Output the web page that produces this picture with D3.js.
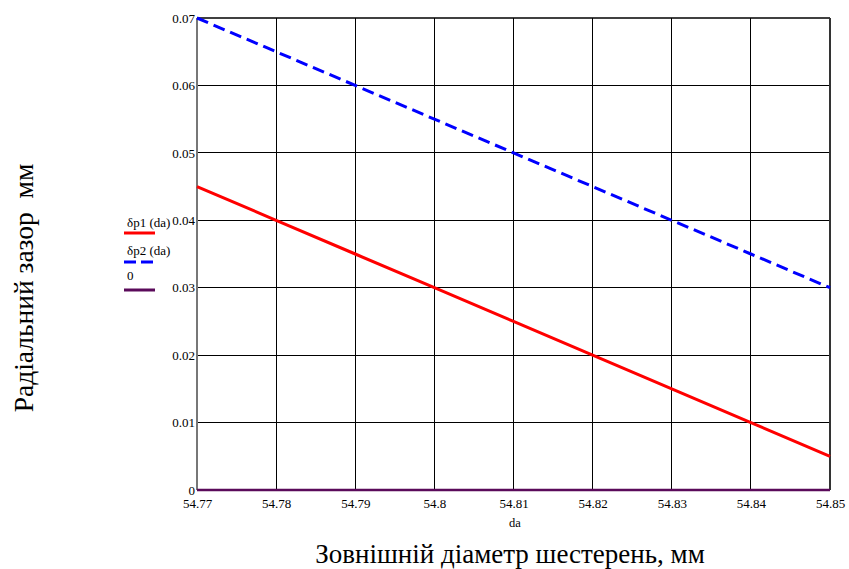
<!DOCTYPE html>
<html><head><meta charset="utf-8">
<script src="https://cdn.jsdelivr.net/npm/d3@7"></script>
<style>body{margin:0;background:#fff}svg{display:block}</style>
</head><body>
<svg id="c" width="849" height="569"></svg>
<script>
const daValues = [54.77, 54.78, 54.79, 54.80, 54.81, 54.82, 54.83, 54.84, 54.85];
const dp1 = [0.045, 0.040, 0.035, 0.030, 0.025, 0.020, 0.015, 0.010, 0.005];
const dp2 = [0.070, 0.065, 0.060, 0.055, 0.050, 0.045, 0.040, 0.035, 0.030];
const zeroLine = [0, 0, 0, 0, 0, 0, 0, 0, 0];
const xTicks = [54.77, 54.78, 54.79, 54.8, 54.81, 54.82, 54.83, 54.84, 54.85];
const yTicks = [0, 0.01, 0.02, 0.03, 0.04, 0.05, 0.06, 0.07];
const legendLabels = ["δp1 (da)", "δp2 (da)", "0"];

const FONT = "Liberation Serif";
const svg = d3.select("#c");
const L = 197, R = 830, T = 18, B = 490;
const x = d3.scaleLinear().domain([54.77, 54.85]).range([L, R]);
const y = d3.scaleLinear().domain([0, 0.07]).range([B, T]);

// grid
svg.append("g").selectAll("line").data(xTicks.slice(1, -1)).join("line")
  .attr("x1", d => x(d)).attr("x2", d => x(d)).attr("y1", T).attr("y2", B)
  .attr("stroke", "#000").attr("stroke-width", 1).attr("shape-rendering", "crispEdges");
svg.append("g").selectAll("line").data(yTicks.slice(1, -1)).join("line")
  .attr("x1", L).attr("x2", R).attr("y1", d => y(d)).attr("y2", d => y(d))
  .attr("stroke", "#000").attr("stroke-width", 1).attr("shape-rendering", "crispEdges");

// frame
svg.append("line").attr("x1", L).attr("x2", R).attr("y1", T).attr("y2", T).attr("stroke", "#000").attr("stroke-width", 1.5);
svg.append("line").attr("x1", R).attr("x2", R).attr("y1", T).attr("y2", B).attr("stroke", "#333").attr("stroke-width", 2);
svg.append("line").attr("x1", L).attr("x2", L).attr("y1", T).attr("y2", B).attr("stroke", "#777").attr("stroke-width", 2);

// tick labels
const yAxis = d3.axisLeft(y).tickValues(yTicks).tickSize(0).tickPadding(2).tickFormat(d => d === 0 ? "0" : d3.format(".2f")(d));
const gy = svg.append("g").attr("transform", `translate(${L},0)`).call(yAxis);
gy.attr("font-family", FONT).attr("font-size", 13);
gy.select(".domain").remove();
gy.selectAll("text").attr("fill", "#000");

const xAxis = d3.axisBottom(x).tickValues(xTicks).tickSize(0).tickPadding(9).tickFormat(d => String(+d.toFixed(2)));
const gx = svg.append("g").attr("transform", `translate(0,${B})`).call(xAxis);
gx.attr("font-family", FONT).attr("font-size", 13);
gx.select(".domain").remove();
gx.selectAll("text").attr("fill", "#000");

const line = d3.line().x((d, i) => x(daValues[i])).y(d => y(d));
svg.append("path").datum(zeroLine).attr("d", line).attr("fill", "none").attr("stroke", "#5a0a5a").attr("stroke-width", 2.5);
svg.append("path").datum(dp1).attr("d", line).attr("fill", "none").attr("stroke", "#ff0000").attr("stroke-width", 3);
svg.append("path").datum(dp2).attr("d", line).attr("fill", "none").attr("stroke", "#0000ff").attr("stroke-width", 3).attr("stroke-dasharray", "12,6");

// legend
const leg = [
  {label: legendLabels[0], color: "#ff0000", dash: null, ty: 227, ly: 233},
  {label: legendLabels[1], color: "#0000ff", dash: "12,5", ty: 255, ly: 262},
  {label: legendLabels[2], color: "#5a0a5a", dash: null, ty: 280, ly: 290}
];
leg.forEach(l => {
  svg.append("text").attr("x", 127).attr("y", l.ty).attr("font-family", FONT).attr("font-size", 13).text(l.label);
  svg.append("line").attr("x1", 124).attr("x2", 155).attr("y1", l.ly).attr("y2", l.ly)
    .attr("stroke", l.color).attr("stroke-width", 3).attr("stroke-dasharray", l.dash);
});

// axis titles
svg.append("text").attr("x", 515).attr("y", 527).attr("text-anchor", "middle").attr("font-family", FONT).attr("font-size", 12.5).text("da");
svg.append("text").attr("x", 510).attr("y", 563).attr("text-anchor", "middle").attr("font-family", FONT).attr("font-size", 27).text("Зовнішній діаметр шестерень, мм");
svg.append("text").attr("transform", "translate(33,288) rotate(-90)").attr("text-anchor", "middle").attr("font-family", FONT).attr("font-size", 27.5).attr("xml:space", "preserve").text("Радіальний зазор  мм");
</script>
</body></html>
